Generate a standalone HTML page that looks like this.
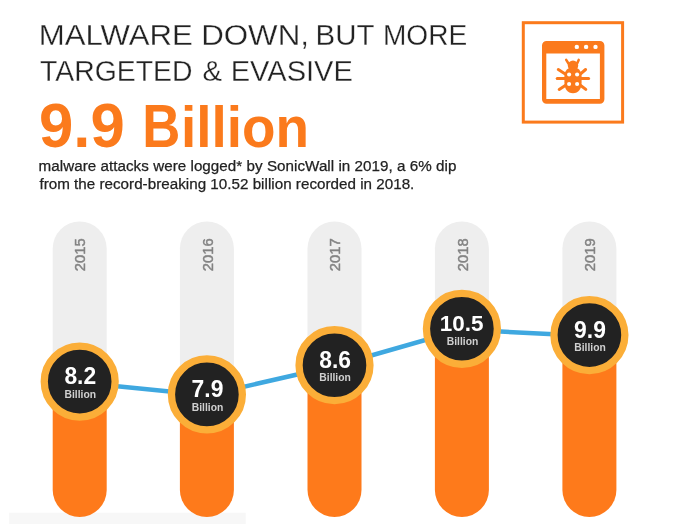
<!DOCTYPE html>
<html><head><meta charset="utf-8">
<style>
html,body{margin:0;padding:0;background:#fff;}
body{width:700px;height:524px;overflow:hidden;}
svg{display:block;}
svg text{font-family:"Liberation Sans",sans-serif;white-space:pre;}
</style></head><body>
<svg width="700" height="524" viewBox="0 0 700 524">
<rect x="9.2" y="512.7" width="236.5" height="12" fill="#f7f7f7"/>
<g fill="#eeeeee"><rect x="52.70" y="221.5" width="54.0" height="165.1" rx="27.0"/><rect x="179.90" y="221.5" width="54.0" height="177.9" rx="27.0"/><rect x="307.50" y="221.5" width="54.0" height="148.7" rx="27.0"/><rect x="434.90" y="221.5" width="54.0" height="112.3" rx="27.0"/><rect x="562.40" y="221.5" width="54.0" height="118.6" rx="27.0"/></g>
<g fill="#fe7a1b"><path d="M52.70 381.6 h54.0 V490.00 a27.0 27.0 0 0 1 -54.0 0z"/><path d="M179.90 394.4 h54.0 V490.00 a27.0 27.0 0 0 1 -54.0 0z"/><path d="M307.50 365.2 h54.0 V490.00 a27.0 27.0 0 0 1 -54.0 0z"/><path d="M434.90 328.8 h54.0 V490.00 a27.0 27.0 0 0 1 -54.0 0z"/><path d="M562.40 335.1 h54.0 V490.00 a27.0 27.0 0 0 1 -54.0 0z"/></g>
<polyline points="79.7,382.4 206.9,395.2 334.5,366.0 461.9,329.6 589.4,335.9" fill="none" stroke="#3fa8e0" stroke-width="4.5"/>
<g fill="#222222" stroke="#fbae38" stroke-width="7.3"><circle cx="79.7" cy="381.6" r="35.45"/><circle cx="206.9" cy="394.4" r="35.45"/><circle cx="334.5" cy="365.2" r="35.45"/><circle cx="461.9" cy="328.8" r="35.45"/><circle cx="589.4" cy="335.1" r="35.45"/></g>
<g fill="#838383" stroke="#838383" stroke-width="0.45" font-size="14.8" text-anchor="middle"><text transform="translate(85.3,254.7) rotate(-90)">2015</text><text transform="translate(212.5,254.7) rotate(-90)">2016</text><text transform="translate(340.1,254.7) rotate(-90)">2017</text><text transform="translate(467.5,254.7) rotate(-90)">2018</text><text transform="translate(595.0,254.7) rotate(-90)">2019</text></g>
<rect x="523.3" y="22.7" width="99.3" height="99.4" fill="none" stroke="#fb7a1c" stroke-width="3"/>
<path fill="#fb7a1c" fill-rule="evenodd" d="M546.5 41 h53.4 a4.5 4.5 0 0 1 4.5 4.5 v53.7 a4.5 4.5 0 0 1 -4.5 4.5 h-53.4 a4.5 4.5 0 0 1 -4.5 -4.5 v-53.7 a4.5 4.5 0 0 1 4.5 -4.5z M546.3 53.5 v45.4 h53.6 v-45.4z"/>
<g fill="#fff"><circle cx="576.8" cy="46.9" r="2.2"/><circle cx="586.1" cy="46.9" r="2.2"/><circle cx="595.5" cy="46.9" r="2.2"/></g>
<g stroke="#fb7a1c" stroke-width="3" stroke-linecap="round" fill="none">
<path stroke-width="2.5" d="M566.2 59.9 L568.8 64 M578.7 59.9 L576.9 64"/>
<path d="M558.3 69.5 L566 74.4 M585.6 69.5 L580 74.4"/>
<path d="M557.2 78.6 H588.6"/>
<path d="M559.2 89.4 L566 85 M585.8 89.4 L580 85"/>
</g>
<g fill="#fb7a1c">
<circle cx="573" cy="65.6" r="5.2"/>
<path d="M564.4 77 C564.4 70.5 567.5 67.4 573 67.4 C578.5 67.4 581.6 70.5 581.6 77 V82.5 C581.6 89 578.5 93.2 573 93.2 C567.5 93.2 564.4 89 564.4 82.5z"/>
</g>
<g fill="#fff"><circle cx="569.1" cy="74.5" r="2.05"/><circle cx="577.1" cy="74.5" r="2.05"/><circle cx="569.1" cy="84" r="2.05"/><circle cx="577.1" cy="84" r="2.05"/></g>

<text y="45.15" font-weight="normal" fill="#222222" stroke="#fff" stroke-width="0.3"><tspan x="38.69" font-size="30.3" textLength="154.20" lengthAdjust="spacingAndGlyphs">MALWARE</tspan> <tspan x="201.18" font-size="30.3" textLength="107.76" lengthAdjust="spacingAndGlyphs">DOWN,</tspan> <tspan x="315.60" font-size="30.3" textLength="58.94" lengthAdjust="spacingAndGlyphs">BUT</tspan> <tspan x="382.90" font-size="30.3" textLength="84.27" lengthAdjust="spacingAndGlyphs">MORE</tspan></text>
<text y="81.15" font-weight="normal" fill="#222222" stroke="#fff" stroke-width="0.3"><tspan x="40.05" font-size="30.3" textLength="152.42" lengthAdjust="spacingAndGlyphs">TARGETED</tspan> <tspan x="202.39" font-size="30.3" textLength="19.46" lengthAdjust="spacingAndGlyphs">&amp;</tspan> <tspan x="230.73" font-size="30.3" textLength="122.07" lengthAdjust="spacingAndGlyphs">EVASIVE</tspan></text>
<text y="147" font-weight="bold" fill="#fb7a1c"><tspan x="39.03" font-size="62.6" textLength="85.76" lengthAdjust="spacingAndGlyphs">9.9</tspan> <tspan x="142.17" font-size="61.5" textLength="38.10" lengthAdjust="spacingAndGlyphs">B</tspan><tspan x="181.02" font-size="58" textLength="128.03" lengthAdjust="spacingAndGlyphs">illion</tspan></text>
<text x="38.60" y="170.80" font-size="15.2" font-weight="normal" fill="#222" stroke="#222" stroke-width="0.25" letter-spacing="0.038">malware attacks were logged* by SonicWall in 2019, a 6% dip</text>
<text x="39.40" y="188.70" font-size="15.2" font-weight="normal" fill="#222" stroke="#222" stroke-width="0.25" letter-spacing="0.017">from the record-breaking 10.52 billion recorded in 2018.</text>
<text transform="translate(64.40,384.20) scale(0.9942,1)" x="0.00" y="0" font-size="23" font-weight="bold" fill="#fff">8.2</text>
<text transform="translate(64.50,397.70) scale(0.9570,1)" x="0.00" y="0" font-size="10.8" font-weight="bold" fill="#d0d0d0">Billion</text>
<text transform="translate(191.60,397.00) scale(0.9942,1)" x="0.00" y="0" font-size="23" font-weight="bold" fill="#fff">7.9</text>
<text transform="translate(191.70,410.50) scale(0.9570,1)" x="0.00" y="0" font-size="10.8" font-weight="bold" fill="#d0d0d0">Billion</text>
<text transform="translate(319.20,367.80) scale(0.9942,1)" x="0.00" y="0" font-size="23" font-weight="bold" fill="#fff">8.6</text>
<text transform="translate(319.30,381.30) scale(0.9570,1)" x="0.00" y="0" font-size="10.8" font-weight="bold" fill="#d0d0d0">Billion</text>
<text transform="translate(440.60,331.40) scale(0.9779,1)" x="-1.00" y="0" font-size="23" font-weight="bold" fill="#fff">10.5</text>
<text transform="translate(446.70,344.90) scale(0.9570,1)" x="0.00" y="0" font-size="10.8" font-weight="bold" fill="#d0d0d0">Billion</text>
<text transform="translate(574.10,337.70) scale(0.9942,1)" x="0.00" y="0" font-size="23" font-weight="bold" fill="#fff">9.9</text>
<text transform="translate(574.20,351.20) scale(0.9570,1)" x="0.00" y="0" font-size="10.8" font-weight="bold" fill="#d0d0d0">Billion</text>
</svg>
</body></html>
